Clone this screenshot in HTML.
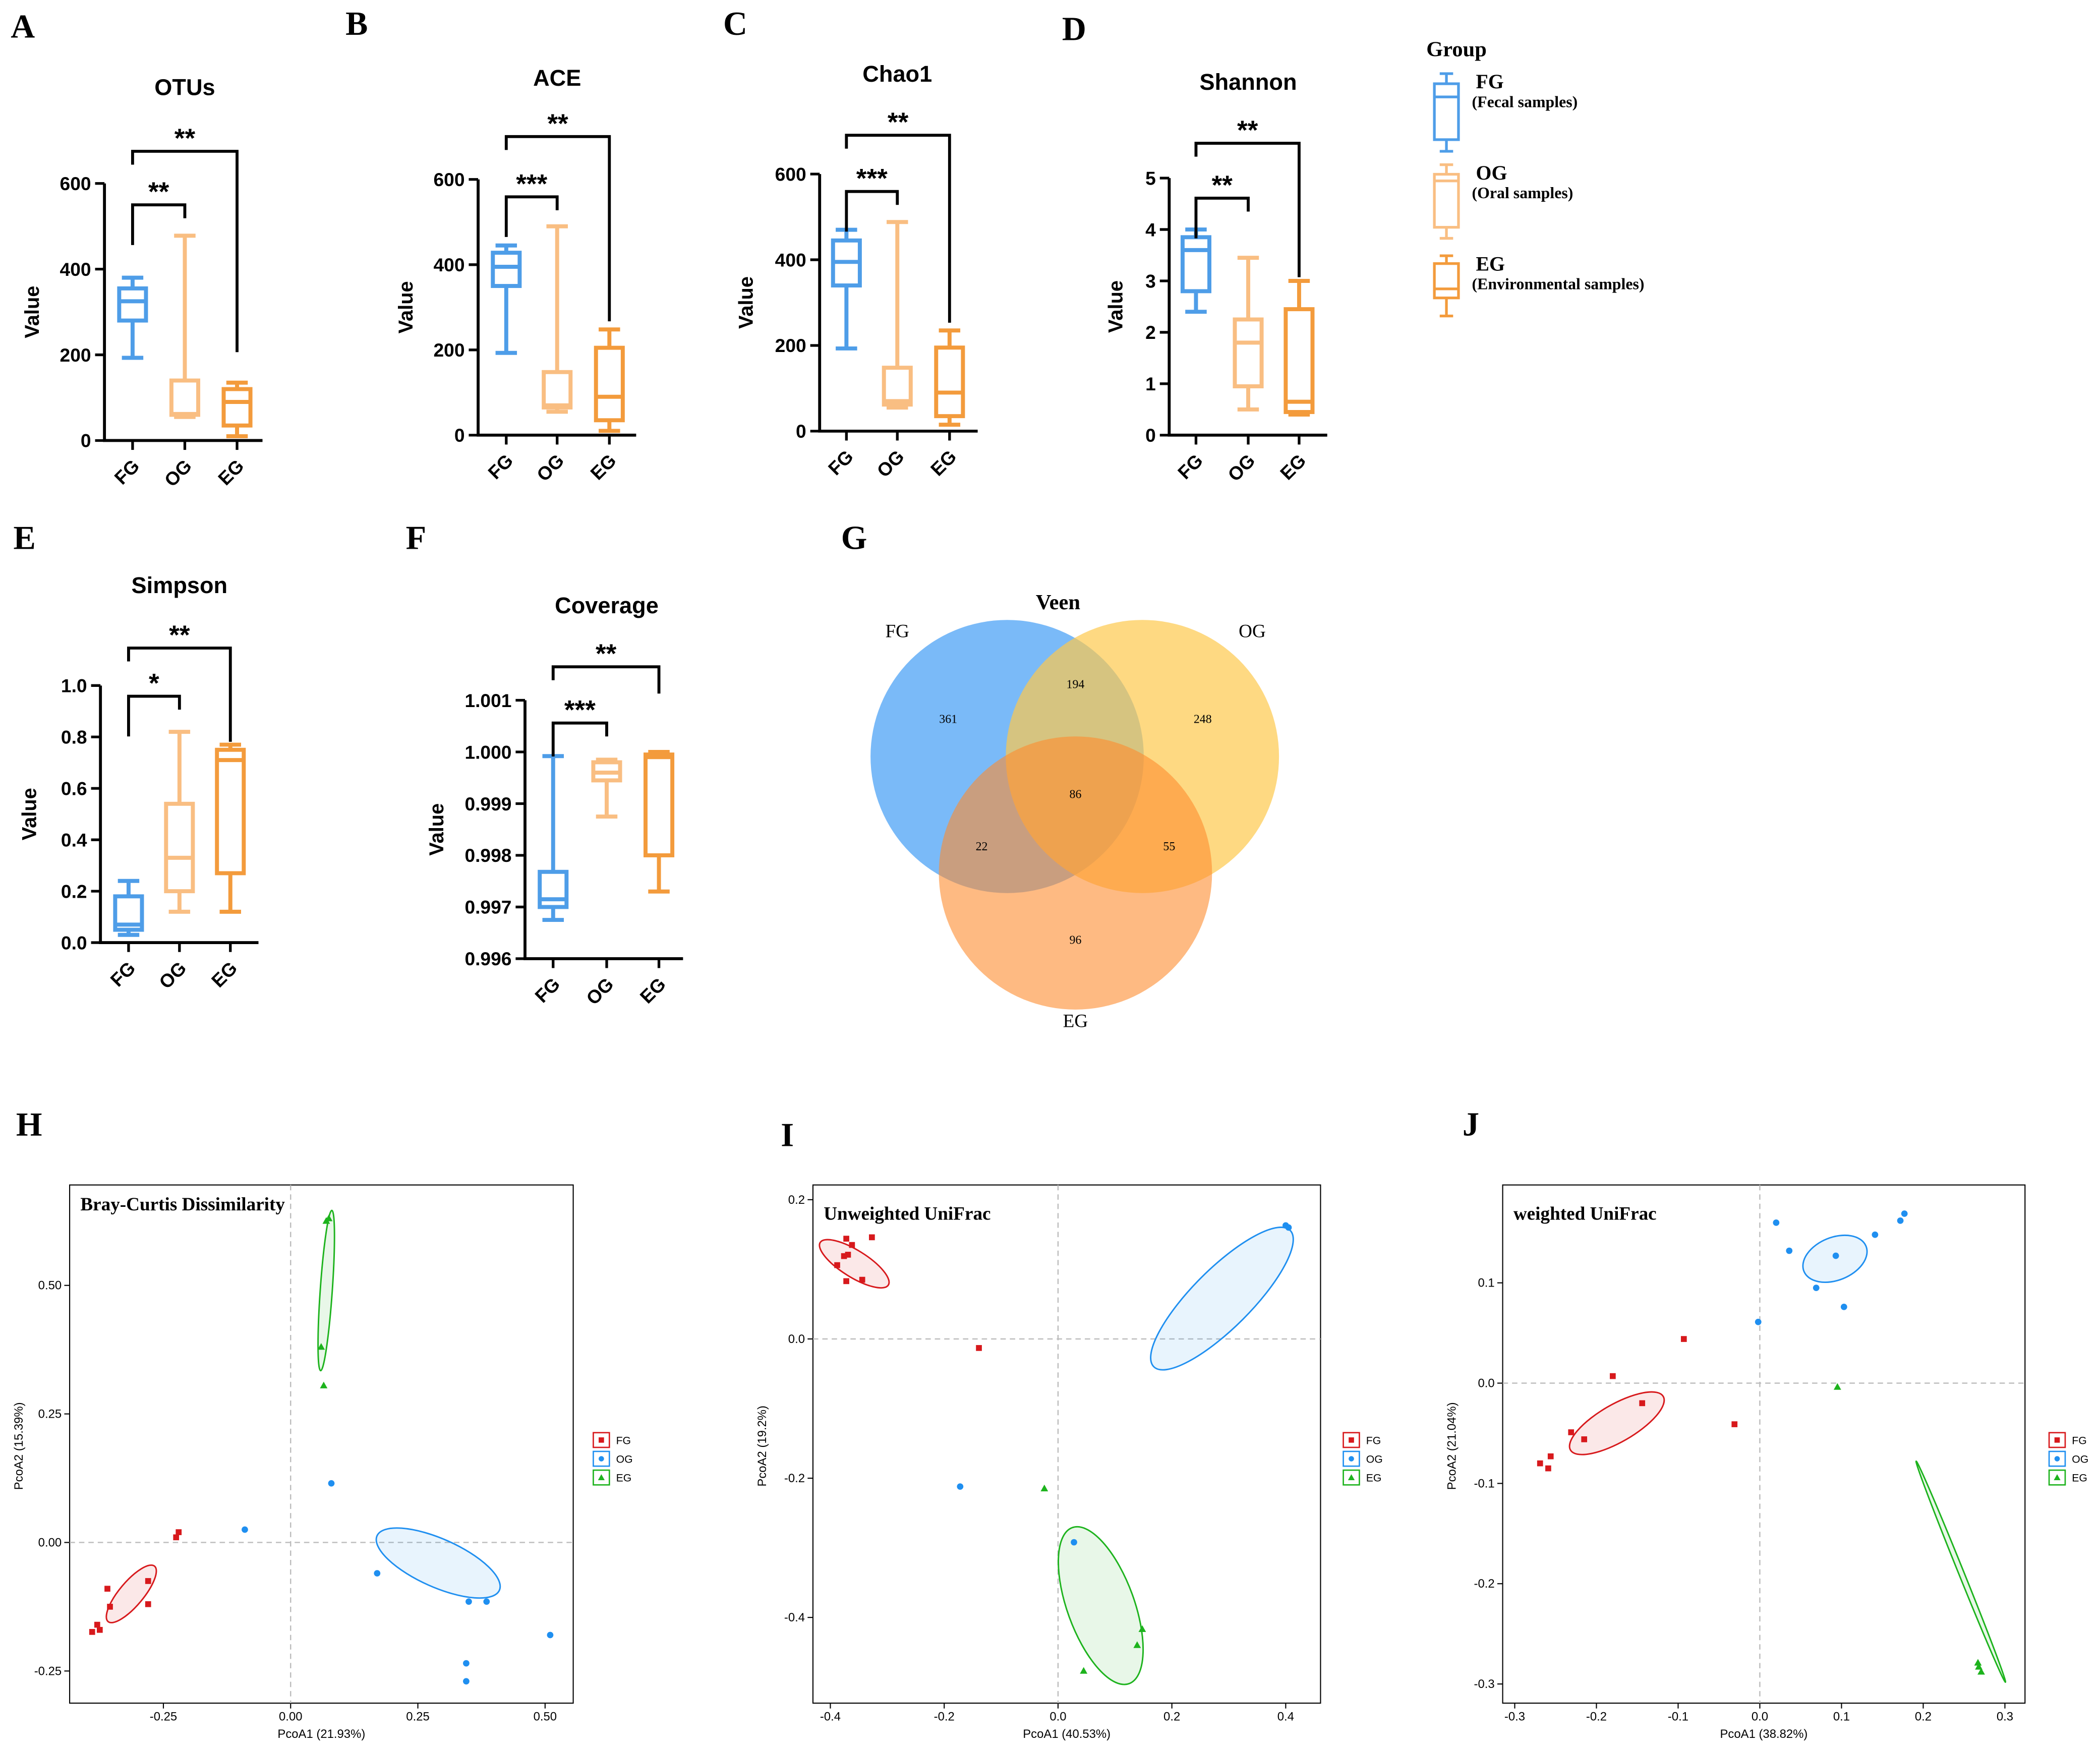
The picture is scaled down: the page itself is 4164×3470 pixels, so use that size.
<!DOCTYPE html>
<html><head><meta charset="utf-8"><style>
html,body{margin:0;padding:0;background:#fff;}
svg{display:block;}
.sans{font-family:"Liberation Sans",Arial,sans-serif;}
.serif{font-family:"Liberation Serif","Times New Roman",serif;}
</style></head><body>
<svg id="fig" width="4164" height="3470" viewBox="0 0 1568 1307" preserveAspectRatio="none" xmlns="http://www.w3.org/2000/svg">
<rect x="0" y="0" width="1568" height="1307" fill="#fff"/>
</svg>
<script>
// ---------- DATA ----------
const groups = ["FG","OG","EG"];
const otusStats = [[193,280,325,355,380],[55,60,62,140,478],[10,35,90,120,135]];
const aceStats = [[193,350,395,428,445],[55,65,70,148,490],[10,35,90,205,248]];
const chao1Stats = [[193,340,395,445,470],[55,62,70,148,488],[15,35,90,195,235]];
const shannonStats = [[2.4,2.8,3.6,3.85,4.0],[0.5,0.95,1.8,2.25,3.45],[0.4,0.45,0.65,2.45,3.0]];
const simpsonStats = [[0.03,0.05,0.07,0.18,0.24],[0.12,0.2,0.33,0.54,0.82],[0.12,0.27,0.71,0.75,0.77]];
const coverageStats = [[0.99675,0.997,0.99715,0.99768,0.99992],[0.99875,0.99945,0.9996,0.9998,0.99985],[0.9973,0.998,0.9999,0.99995,1.0]];
const otusTicks = [0,200,400,600];
const shannonTicks = [0,1,2,3,4,5];
const simpsonTicks = [0.0,0.2,0.4,0.6,0.8,1.0];
const coverageTicks = [0.996,0.997,0.998,0.999,1.000,1.001];
const vennLabels = [361,248,96,194,22,55,86];
const bcFG = [[-0.39,-0.174],[-0.38,-0.16],[-0.375,-0.17],[-0.36,-0.09],[-0.355,-0.125],[-0.28,-0.075],[-0.28,-0.12],[-0.22,0.02],[-0.225,0.01]];
const bcOG = [[-0.09,0.025],[0.08,0.115],[0.17,-0.06],[0.35,-0.115],[0.385,-0.115],[0.51,-0.18],[0.345,-0.235],[0.345,-0.27]];
const bcEG = [[0.075,0.63],[0.07,0.625],[0.06,0.38],[0.065,0.305]];
const uwFG = [[-0.372,0.144],[-0.362,0.135],[-0.369,0.121],[-0.388,0.106],[-0.376,0.119],[-0.327,0.146],[-0.372,0.083],[-0.344,0.085],[-0.139,-0.013]];
const uwOG = [[0.4,0.163],[0.405,0.16],[-0.172,-0.212],[0.028,-0.292]];
const uwEG = [[-0.024,-0.215],[0.148,-0.417],[0.139,-0.44],[0.045,-0.477]];
const wFG = [[-0.269,-0.08],[-0.259,-0.085],[-0.256,-0.073],[-0.231,-0.049],[-0.215,-0.056],[-0.180,0.007],[-0.144,-0.020],[-0.093,0.044],[-0.031,-0.041]];
const wOG = [[0.020,0.160],[0.036,0.132],[-0.002,0.061],[0.069,0.095],[0.093,0.127],[0.103,0.076],[0.141,0.148],[0.172,0.162],[0.177,0.169]];
const wEG = [[0.095,-0.004],[0.268,-0.283],[0.271,-0.288],[0.267,-0.279]];

// ---------- HELPERS ----------
const svg=document.getElementById('fig');
const NS="http://www.w3.org/2000/svg";
function mk(tag,attrs,parent){const e=document.createElementNS(NS,tag);for(const k in attrs)e.setAttribute(k,attrs[k]);(parent||svg).appendChild(e);return e;}
function txt(s,attrs,parent){const e=mk('text',attrs,parent);e.textContent=s;return e;}
const COL=["#4e9de8","#f9be82","#f39b3c"];

function boxPanel(name,cfg,stats,ticks){
  const g=mk('g',{});
  
  
  const ys=v=>cfg.y0+(v-ticks[0])/(ticks[ticks.length-1]-ticks[0])*(cfg.y1-cfg.y0);
  const ax=cfg.ax;
  const axis=mk('path',{d:`M${ax} ${cfg.y1}V${cfg.y0}H${ax+cfg.len}`,stroke:'#000','stroke-width':2.2,fill:'none'},g);
  
  
  ticks.forEach(t=>{
    mk('line',{x1:ax-7,x2:ax,y1:ys(t),y2:ys(t),stroke:'#000','stroke-width':2},g);
    const l=txt(cfg.fmt?cfg.fmt(t):String(t),{x:ax-10,y:ys(t)+5,'text-anchor':'end','font-size':14,'font-weight':'bold',class:'sans'},g);
    
    
  });
  stats.forEach((s,i)=>{
    const cx=cfg.cx[i],w=20,c=COL[i];
    mk('line',{x1:cx,x2:cx,y1:cfg.y0,y2:cfg.y0+7,stroke:'#000','stroke-width':2},g);
    const lb=txt(groups[i],{x:0,y:0,'font-size':14,'font-weight':'bold',class:'sans','text-anchor':'end',transform:`translate(${cx+6},${cfg.y0+20}) rotate(-45)`},g);
    
    
    const bg=mk('g',{stroke:c,'stroke-width':3,fill:'none'},g);
    
    
    mk('line',{x1:cx,x2:cx,y1:ys(s[0]),y2:ys(s[1])},bg);
    mk('line',{x1:cx,x2:cx,y1:ys(s[3]),y2:ys(s[4])},bg);
    mk('line',{x1:cx-8,x2:cx+8,y1:ys(s[0]),y2:ys(s[0])},bg);
    mk('line',{x1:cx-8,x2:cx+8,y1:ys(s[4]),y2:ys(s[4])},bg);
    mk('rect',{x:cx-w/2,y:ys(s[3]),width:w,height:ys(s[1])-ys(s[3]),fill:'#fff'},bg);
    mk('line',{x1:cx-w/2,x2:cx+w/2,y1:ys(s[2]),y2:ys(s[2])},bg);
  });
  cfg.br.forEach((b,k)=>{
    const x1=cfg.cx[0],x2=cfg.cx[b.to];
    const p=mk('path',{d:`M${x1} ${b.y+b.d1}V${b.y}H${x2}V${b.y+b.d2}`,stroke:'#000','stroke-width':2.2,fill:'none'},g);
    
    
    const st=txt(b.s,{x:(x1+x2)/2,y:b.y-3,'text-anchor':'middle','font-size':20,'font-weight':'bold',class:'sans'},g);
    
    
  });
  const t=txt(cfg.title,{x:cfg.cx[1],y:cfg.ty,'text-anchor':'middle','font-size':17,'font-weight':'bold',class:'sans'},g);
  
  
  const yl=txt('Value',{x:0,y:0,'text-anchor':'middle','font-size':15,'font-weight':'bold',class:'sans',transform:`translate(${cfg.vx},${(cfg.y0+cfg.y1)/2}) rotate(-90)`},g);
  
  
}

boxPanel('otus',{ax:78,len:118,y0:329,y1:137,cx:[99,138,177],title:'OTUs',ty:71,vx:29,
  br:[{to:1,y:153,d1:30,d2:10,s:'**'},{to:2,y:113,d1:10,d2:150,s:'**'}]},otusStats,otusTicks);
boxPanel('ace',{ax:357,len:118,y0:325,y1:134,cx:[378,416,455],title:'ACE',ty:64,vx:308,
  br:[{to:1,y:147,d1:30,d2:10,s:'***'},{to:2,y:102,d1:10,d2:138,s:'**'}]},aceStats,otusTicks);
boxPanel('chao1',{ax:612,len:118,y0:322,y1:130,cx:[632,670,709],title:'Chao1',ty:61,vx:562,
  br:[{to:1,y:143,d1:30,d2:10,s:'***'},{to:2,y:101,d1:10,d2:140,s:'**'}]},chao1Stats,otusTicks);
boxPanel('shannon',{ax:873,len:118,y0:325,y1:133,cx:[893,932,970],title:'Shannon',ty:67,vx:838,
  br:[{to:1,y:148,d1:30,d2:10,s:'**'},{to:2,y:107,d1:10,d2:100,s:'**'}]},shannonStats,shannonTicks);
boxPanel('simpson',{ax:75,len:118,y0:704,y1:512,cx:[96,134,172],title:'Simpson',ty:443,vx:27,fmt:v=>v.toFixed(1),
  br:[{to:1,y:520,d1:30,d2:10,s:'*'},{to:2,y:484,d1:10,d2:70,s:'**'}]},simpsonStats,simpsonTicks);
boxPanel('coverage',{ax:392,len:118,y0:716,y1:523,cx:[413,453,492],title:'Coverage',ty:458,vx:331,fmt:v=>v.toFixed(3),
  br:[{to:1,y:540,d1:25,d2:10,s:'***'},{to:2,y:498,d1:10,d2:20,s:'**'}]},coverageStats,coverageTicks);

[['A',8,28],['B',258,26],['C',540,26],['D',793,30],['E',10,410],['F',303,410],['G',628,410],['H',12,848],['I',583,856],['J',1092,848]].forEach(a=>{
  const l=txt(a[0],{x:a[1],y:a[2],'font-size':25,'font-weight':'bold',class:'serif'});
  
  
});

(function(){
  const g=mk('g',{});
  
  
  txt('Group',{x:1065,y:42,'font-size':16,'font-weight':'bold',class:'serif'},g);
  const names=['FG','OG','EG'],desc=['(Fecal samples)','(Oral samples)','(Environmental samples)'];
  const ty=[[55,113],[123,178],[191,236]];
  names.forEach((n,i)=>{
    const e=mk('g',{},g);
    
    
    const [a,b]=ty[i],c=COL[i],cx=1080;
    const q1=a+(b-a)*(i==0?0.85:i==1?0.85:0.7),q3=a+(b-a)*0.13,md=a+(b-a)*(i==0?0.3:i==1?0.22:0.55);
    mk('line',{x1:cx,x2:cx,y1:a,y2:b,stroke:c,'stroke-width':2},e);
    mk('line',{x1:cx-5,x2:cx+5,y1:a,y2:a,stroke:c,'stroke-width':2},e);
    mk('line',{x1:cx-5,x2:cx+5,y1:b,y2:b,stroke:c,'stroke-width':2},e);
    mk('rect',{x:cx-9,y:q3,width:18,height:q1-q3,fill:'#fff',stroke:c,'stroke-width':2},e);
    mk('line',{x1:cx-9,x2:cx+9,y1:md,y2:md,stroke:c,'stroke-width':2},e);
    txt(n,{x:1102,y:a+11,'font-size':15,'font-weight':'bold',class:'serif'},e);
    txt(desc[i],{x:1099,y:a+25,'font-size':12,'font-weight':'bold',class:'serif'},e);
  });
})();

(function(){
  const g=mk('g',{});
  
  
  const c1=mk('circle',{cx:752,cy:565,r:102,fill:'#4da3f5','fill-opacity':0.75},g);
  
  const c2=mk('circle',{cx:853,cy:565,r:102,fill:'#fdc94d','fill-opacity':0.7},g);
  
  const c3=mk('circle',{cx:803,cy:652,r:102,fill:'#fe8c2e','fill-opacity':0.6},g);
  
  const pos=[[708,540],[898,540],[803,705],[803,514],[733,635],[873,635],[803,596]];
  vennLabels.forEach((v,i)=>txt(String(v),{x:pos[i][0],y:pos[i][1],'text-anchor':'middle','font-size':9,class:'serif'},g));
  txt('Veen',{x:790,y:455,'text-anchor':'middle','font-size':16,'font-weight':'bold',class:'serif'},g);
  txt('FG',{x:670,y:476,'text-anchor':'middle','font-size':14,class:'serif'},g);
  txt('OG',{x:935,y:476,'text-anchor':'middle','font-size':14,class:'serif'},g);
  txt('EG',{x:803,y:767,'text-anchor':'middle','font-size':14,class:'serif'},g);
})();

const PC=["#d7191c","#1f8ff0","#1db31d"];
function pcoa(name,cfg,sets,ells){
  const g=mk('g',{});
  
  
  const xs=v=>cfg.x0+v*cfg.kx, ys=v=>cfg.y0-v*cfg.ky;
  const fr=mk('rect',{x:cfg.L,y:885,width:cfg.R-cfg.L,height:387,fill:'none',stroke:'#000','stroke-width':0.8},g);
  
  mk('line',{x1:xs(0),x2:xs(0),y1:885,y2:1272,stroke:'#bbb','stroke-width':0.9,'stroke-dasharray':'4 3'},g);
  mk('line',{x1:cfg.L,x2:cfg.R,y1:ys(0),y2:ys(0),stroke:'#bbb','stroke-width':0.9,'stroke-dasharray':'4 3'},g);
  cfg.xt.forEach(t=>{mk('line',{x1:xs(t),x2:xs(t),y1:1272,y2:1276,stroke:'#000','stroke-width':0.8},g);
    txt(cfg.xf(t),{x:xs(t),y:1285,'text-anchor':'middle','font-size':9,class:'sans'},g);});
  cfg.yt.forEach(t=>{mk('line',{x1:cfg.L-4,x2:cfg.L,y1:ys(t),y2:ys(t),stroke:'#000','stroke-width':0.8},g);
    txt(cfg.yf(t),{x:cfg.L-6,y:ys(t)+3,'text-anchor':'end','font-size':9,class:'sans'},g);});
  txt(cfg.xl,{x:(cfg.L+cfg.R)/2,y:1298,'text-anchor':'middle','font-size':9,class:'sans'},g);
  txt(cfg.yl,{x:0,y:0,'text-anchor':'middle','font-size':9,class:'sans',transform:`translate(${cfg.L-35},1080) rotate(-90)`},g);
  const tt=txt(cfg.title,{x:cfg.L+8,y:cfg.tyy,'font-size':14,'font-weight':'bold',class:'serif'},g);
  
  ells.forEach((e,i)=>{
    const el=mk('ellipse',{cx:xs(e[0]),cy:ys(e[1]),rx:e[2],ry:e[3],transform:`rotate(${e[4]} ${xs(e[0])} ${ys(e[1])})`,fill:PC[i],'fill-opacity':0.1,stroke:PC[i],'stroke-width':1.1},g);
    
    
  });
  sets.forEach((pts,i)=>pts.forEach(p=>{
    let m;
    if(i==0) m=mk('rect',{x:xs(p[0])-2.2,y:ys(p[1])-2.2,width:4.4,height:4.4,fill:PC[0]},g);
    else if(i==1) m=mk('circle',{cx:xs(p[0]),cy:ys(p[1]),r:2.4,fill:PC[1]},g);
    else {const x=xs(p[0]),y=ys(p[1]);m=mk('path',{d:`M${x} ${y-3}L${x+2.8} ${y+2}L${x-2.8} ${y+2}Z`,fill:PC[2]},g);}
    
    
  }));
  const lg=mk('g',{},g);
  
  groups.forEach((n,i)=>{
    const y=1070+i*14,x=cfg.lx;
    mk('rect',{x:x,y:y,width:12,height:11,fill:'#fff',stroke:PC[i],'stroke-width':1},lg);
    if(i==0) mk('rect',{x:x+4,y:y+3.5,width:4,height:4,fill:PC[0]},lg);
    else if(i==1) mk('circle',{cx:x+6,cy:y+5.5,r:2,fill:PC[1]},lg);
    else mk('path',{d:`M${x+6} ${y+3}L${x+8.5} ${y+7.5}L${x+3.5} ${y+7.5}Z`,fill:PC[2]},lg);
    txt(n,{x:x+17,y:y+8.5,'font-size':8,class:'sans'},lg);
  });
}
const f2=v=>v.toFixed(2), f1=v=>v.toFixed(1);
pcoa('bray-curtis',{L:52,R:428,x0:217,kx:380,y0:1152,ky:384,xt:[-0.25,0,0.25,0.5],yt:[-0.25,0,0.25,0.5],xf:f2,yf:f2,
  xl:'PcoA1 (21.93%)',yl:'PcoA2 (15.39%)',title:'Bray-Curtis Dissimilarity',tyy:904,lx:443},
  [bcFG,bcOG,bcEG],[[-0.313,-0.1,27,9,-50],[0.29,-0.04,50,18,24],[0.07,0.49,60,4.5,-86]]);
pcoa('unweighted-unifrac',{L:607,R:986,x0:790,kx:425,y0:1000,ky:520,xt:[-0.4,-0.2,0,0.2,0.4],yt:[-0.4,-0.2,0,0.2],xf:f1,yf:f1,
  xl:'PcoA1 (40.53%)',yl:'PcoA2 (19.2%)',title:'Unweighted UniFrac',tyy:911,lx:1003},
  [uwFG,uwOG,uwEG],[[-0.358,0.108,30,10,32],[0.288,0.058,72,22,-45],[0.075,-0.383,62,25,70]]);
pcoa('weighted-unifrac',{L:1122,R:1512,x0:1314,kx:610,y0:1033,ky:749,xt:[-0.3,-0.2,-0.1,0,0.1,0.2,0.3],yt:[-0.3,-0.2,-0.1,0,0.1],xf:f1,yf:f1,
  xl:'PcoA1 (38.82%)',yl:'PcoA2 (21.04%)',title:'weighted UniFrac',tyy:911,lx:1530},
  [wFG,wOG,wEG],[[-0.175,-0.04,40,14,-30],[0.092,0.124,25,16,-22],[0.246,-0.188,89,2,68]]);
</script>
</body></html>
